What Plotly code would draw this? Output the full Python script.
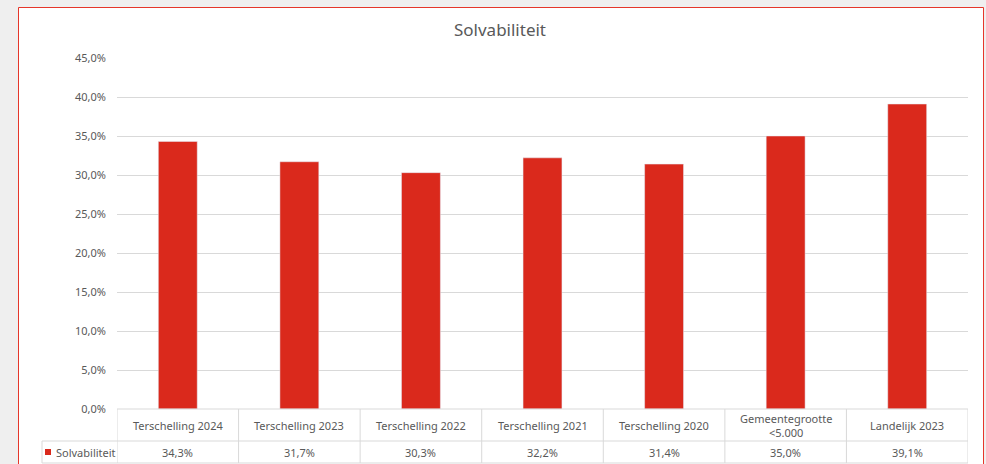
import plotly.graph_objects as go

categories = ["Terschelling 2024", "Terschelling 2023", "Terschelling 2022", "Terschelling 2021",
              "Terschelling 2020", "Gemeentegrootte<br><5.000", "Landelijk 2023"]
values = [34.3, 31.7, 30.3, 32.2, 31.4, 35.0, 39.1]
series_name = "Solvabiliteit"
y_ticks = [0, 5, 10, 15, 20, 25, 30, 35, 40, 45]

W, H = 986, 464
bar_color = "#da291c"
grid = "#d9d9d9"
txt = "#595959"
font = "Noto Sans"

# convert screen pixels to paper fractions
def px_x(v):
    return v / W

def px_y(v):
    return 1 - v / H

fig = go.Figure()
fig.add_trace(go.Bar(x=list(range(len(categories))), y=values, name=series_name,
                     marker_color=bar_color, width=0.32, showlegend=False))

# chart area
fig.add_shape(type="rect", xref="paper", yref="paper", x0=px_x(18.5), x1=px_x(983.5), y0=-0.05, y1=px_y(7.5),
              fillcolor="white", line=dict(color="#e5362a", width=1), layer="below")

# data table lines
row1_top, row1_bot, row2_bot = 409, 441, 463
for b in range(len(categories) + 1):
    fig.add_shape(type="line", xref="x", yref="paper", x0=b - 0.5, x1=b - 0.5,
                  y0=px_y(row2_bot), y1=px_y(row1_top), line=dict(color=grid, width=1))
fig.add_shape(type="line", xref="x", yref="paper", x0=-0.5, x1=len(categories) - 0.5,
              y0=px_y(row1_top), y1=px_y(row1_top), line=dict(color=grid, width=1))
for yy in (row1_bot, row2_bot):
    fig.add_shape(type="line", xref="paper", yref="paper", x0=px_x(42), x1=px_x(968),
                  y0=px_y(yy), y1=px_y(yy), line=dict(color=grid, width=1))
fig.add_shape(type="line", xref="paper", yref="paper", x0=px_x(42), x1=px_x(42),
              y0=px_y(row2_bot), y1=px_y(row1_bot), line=dict(color=grid, width=1))

for i, (c, v) in enumerate(zip(categories, values)):
    fig.add_annotation(x=i, y=px_y((row1_top + row1_bot) / 2), xref="x", yref="paper", text=c,
                       yanchor="middle", showarrow=False, font=dict(size=11, color=txt, family=font))
    fig.add_annotation(x=i, y=px_y((row1_bot + row2_bot) / 2), xref="x", yref="paper",
                       text=f"{v:.1f}%".replace(".", ","), yanchor="middle",
                       showarrow=False, font=dict(size=11, color=txt, family=font))

# legend key in table
fig.add_shape(type="rect", xref="paper", yref="paper", x0=px_x(45), x1=px_x(51),
              y0=px_y(455), y1=px_y(449), fillcolor=bar_color, line=dict(width=0))
fig.add_annotation(x=px_x(54), y=px_y(452), xref="paper", yref="paper", text=series_name,
                   xanchor="left", yanchor="middle", showarrow=False,
                   font=dict(size=11, color=txt, family=font))

fig.update_layout(
    width=W, height=H,
    margin=dict(l=0, r=0, t=0, b=0),
    paper_bgcolor="#efefef", plot_bgcolor="rgba(0,0,0,0)",
    title=dict(text="Solvabiliteit", x=px_x(500), xanchor="center", y=px_y(30), yanchor="middle",
               font=dict(size=17, color=txt, family=font)),
    xaxis=dict(domain=[px_x(117), px_x(968)], range=[-0.5, len(categories) - 0.5], automargin=False,
               showticklabels=False, showgrid=False, zeroline=False, showline=False),
    yaxis=dict(domain=[px_y(409), px_y(58)], range=[0, 45], tickvals=y_ticks, automargin=False,
               ticktext=[f"{t:.1f}%".replace(".", ",") for t in y_ticks],
               gridcolor=grid, zeroline=False, showline=False,
               tickfont=dict(size=11, color=txt, family=font), ticklabelstandoff=10),
)

# drop the default page margin so the figure sits at the window's corner
fig.write_html("out.html", config={"displayModeBar": False},
               post_script="document.body.style.margin='0';document.body.style.background='#efefef';")
